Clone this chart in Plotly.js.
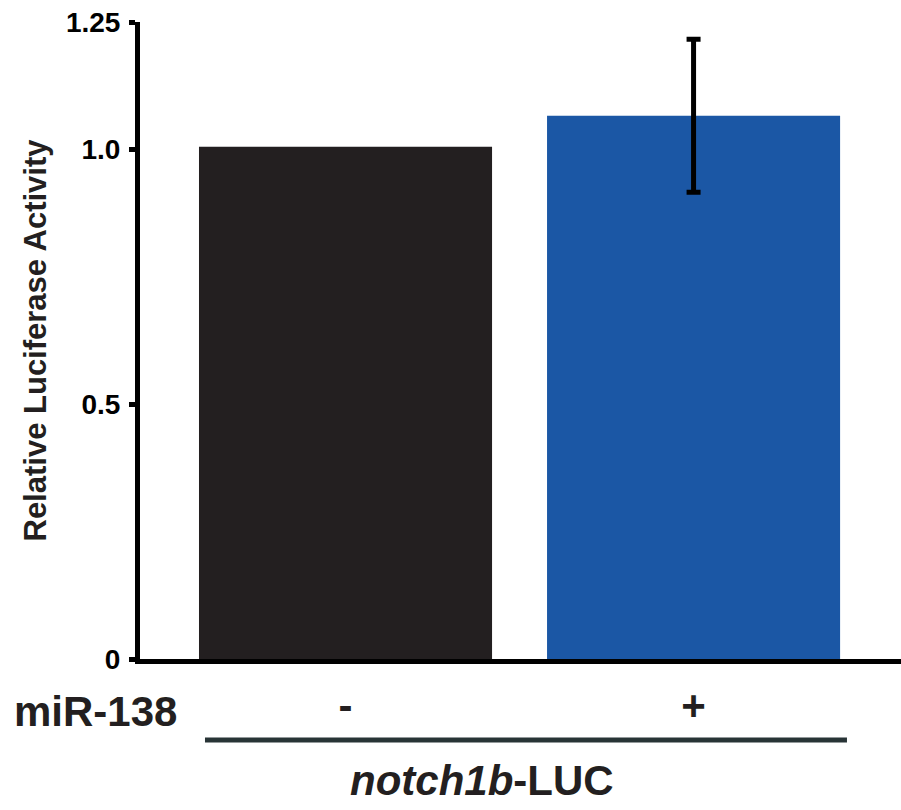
<!DOCTYPE html>
<html>
<head>
<meta charset="utf-8">
<script src="https://cdn.plot.ly/plotly-3.0.1.min.js"></script>
<style>html,body{margin:0;padding:0;background:#fff;}#chart{width:901px;height:810px;}</style>
</head>
<body>
<div id="chart"></div>
<script>
const categories = ["-", "+"];
const positions = [0, 1];
const values = [1.005, 1.066];
const errors = [0, 0.15];
const barColors = ["#231f20", "#1b57a5"];
const yTickVals = [0, 0.5, 1.0, 1.25];
const yTickText = ["0", "0.5", "1.0", "1.25"];
const yTitle = "Relative Luciferase Activity";
const groupLabel = "miR-138";
const constructLabel = "<i>notch1b</i>-LUC";

const font = "Arial, 'Liberation Sans', Helvetica, sans-serif";

const traces = positions.map((p, i) => ({
  type: "bar",
  x: [p],
  y: [values[i]],
  width: 0.842,
  marker: {color: barColors[i], line: {width: 0}},
  error_y: {
    type: "data",
    array: [errors[i]],
    visible: errors[i] > 0,
    color: "#000",
    thickness: 5,
    width: 7
  },
  hoverinfo: "none"
}));

const layout = {
  width: 901,
  height: 810,
  margin: {l: 140, r: 0, t: 22, b: 151},
  paper_bgcolor: "#fff",
  plot_bgcolor: "#fff",
  showlegend: false,
  barmode: "overlay",
  font: {family: font, color: "#231f20"},
  xaxis: {
    range: [-0.5905, 1.596],
    tickvals: positions,
    ticktext: categories,
    ticks: "",
    showgrid: false,
    zeroline: false,
    showline: true,
    linecolor: "#000",
    linewidth: 5,
    tickfont: {size: 42, family: font, color: "#231f20", weight: "bold"},
    ticklabelstandoff: 6,
    fixedrange: true
  },
  yaxis: {
    range: [0, 1.25],
    tickvals: yTickVals,
    ticktext: yTickText,
    ticks: "outside",
    ticklen: 6,
    tickwidth: 5,
    tickcolor: "#000",
    showgrid: false,
    zeroline: false,
    showline: true,
    linecolor: "#000",
    linewidth: 5,
    tickfont: {size: 28, family: font, color: "#000", weight: "bold"},
    ticklabelstandoff: 3,
    title: {text: yTitle, font: {size: 31, family: font, color: "#231f20", weight: "bold"}, standoff: 12},
    automargin: false,
    fixedrange: true
  },
  shapes: [{
    type: "line",
    xref: "paper", yref: "paper",
    x0: 0.0854, x1: 0.9290, y0: -0.127, y1: -0.127,
    line: {color: "#283436", width: 5}
  }],
  annotations: [
    {
      text: groupLabel,
      xref: "paper", yref: "paper",
      x: -0.058, y: -0.083,
      xanchor: "center", yanchor: "middle",
      showarrow: false,
      font: {size: 42, family: font, color: "#231f20", weight: "bold"}
    },
    {
      text: constructLabel,
      xref: "paper", yref: "paper",
      x: 0.4494, y: -0.19,
      xanchor: "center", yanchor: "middle",
      showarrow: false,
      font: {size: 42, family: font, color: "#231f20", weight: "bold"}
    }
  ]
};

Plotly.newPlot("chart", traces, layout, {displayModeBar: false, staticPlot: true});
</script>
</body>
</html>
